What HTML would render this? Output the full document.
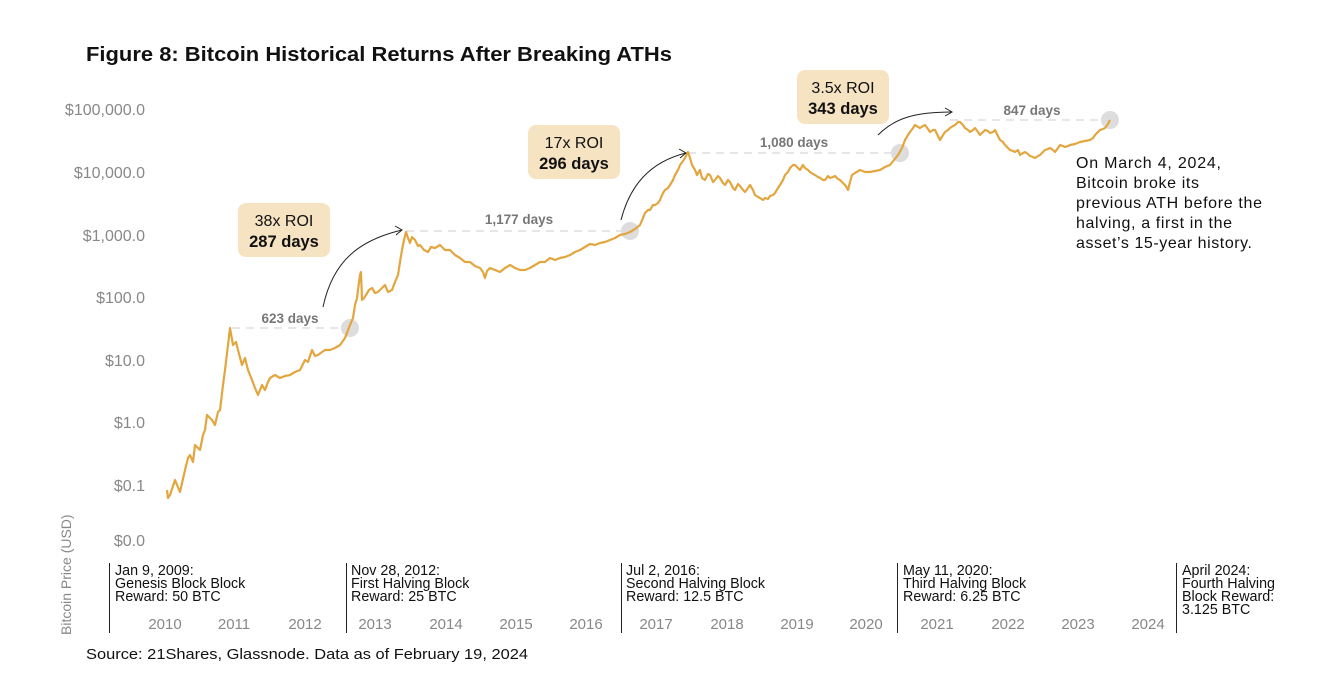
<!DOCTYPE html>
<html><head><meta charset="utf-8"><style>
body{margin:0;background:#fff;font-family:"Liberation Sans",sans-serif;}
svg{display:block}
</style></head><body>
<svg width="1332" height="684" xmlns="http://www.w3.org/2000/svg" font-family="Liberation Sans, sans-serif">
<text x="86" y="61" font-size="20" font-weight="bold" fill="#111" textLength="586" lengthAdjust="spacingAndGlyphs">Figure 8: Bitcoin Historical Returns After Breaking ATHs</text>
<g font-size="16" fill="#888" text-anchor="end">
<text x="145" y="115">$100,000.0</text>
<text x="145" y="178">$10,000.0</text>
<text x="145" y="241">$1,000.0</text>
<text x="145" y="303">$100.0</text>
<text x="145" y="366">$10.0</text>
<text x="145" y="428">$1.0</text>
<text x="145" y="491">$0.1</text>
<text x="145" y="546">$0.0</text>
</g>
<text transform="translate(71,635) rotate(-90)" font-size="14" fill="#888">Bitcoin Price (USD)</text>
<g font-size="15" fill="#888" text-anchor="middle">
<text x="165" y="629">2010</text><text x="234" y="629">2011</text><text x="305" y="629">2012</text>
<text x="375" y="629">2013</text><text x="446" y="629">2014</text><text x="516" y="629">2015</text>
<text x="586" y="629">2016</text><text x="656" y="629">2017</text><text x="727" y="629">2018</text>
<text x="797" y="629">2019</text><text x="866" y="629">2020</text><text x="937" y="629">2021</text>
<text x="1008" y="629">2022</text><text x="1078" y="629">2023</text><text x="1148" y="629">2024</text>
</g>
<g stroke="#222" stroke-width="1">
<line x1="109.5" y1="563" x2="109.5" y2="633"/><line x1="346.5" y1="563" x2="346.5" y2="633"/>
<line x1="621.5" y1="563" x2="621.5" y2="633"/><line x1="897.5" y1="563" x2="897.5" y2="633"/>
<line x1="1176.5" y1="563" x2="1176.5" y2="633"/>
</g>
<g font-size="14.3" fill="#111">
<text x="115" y="575">Jan 9, 2009:</text><text x="115" y="588">Genesis Block Block</text><text x="115" y="601">Reward: 50 BTC</text>
<text x="351" y="575">Nov 28, 2012:</text><text x="351" y="588">First Halving Block</text><text x="351" y="601">Reward: 25 BTC</text>
<text x="626" y="575">Jul 2, 2016:</text><text x="626" y="588">Second Halving Block</text><text x="626" y="601">Reward: 12.5 BTC</text>
<text x="903" y="575">May 11, 2020:</text><text x="903" y="588">Third Halving Block</text><text x="903" y="601">Reward: 6.25 BTC</text>
<text x="1182" y="575">April 2024:</text><text x="1182" y="588">Fourth Halving</text><text x="1182" y="601">Block Reward:</text><text x="1182" y="614">3.125 BTC</text>
</g>
<text x="86" y="659" font-size="15" fill="#111" textLength="442" lengthAdjust="spacingAndGlyphs">Source: 21Shares, Glassnode. Data as of February 19, 2024</text>
<g stroke="#ccc" stroke-width="1" stroke-dasharray="8,6">
<line x1="232" y1="328" x2="350" y2="328"/>
<line x1="406" y1="231" x2="630" y2="231"/>
<line x1="688" y1="153" x2="900" y2="153"/>
<line x1="950" y1="120" x2="1110" y2="120"/>
</g>
<g fill="#ddd">
<circle cx="350" cy="328" r="9"/><circle cx="630" cy="231" r="9"/><circle cx="900" cy="153" r="9"/><circle cx="1110" cy="120" r="9"/>
</g>
<g font-size="13.5" font-weight="bold" fill="#777" text-anchor="middle">
<text x="290" y="323">623 days</text><text x="519" y="224">1,177 days</text><text x="794" y="147">1,080 days</text><text x="1032" y="115">847 days</text>
</g>
<polyline fill="none" stroke="#e3a63f" stroke-width="2.2" stroke-linejoin="round" points="167,490 168,498 170,495 175,480 180,492 185,470 188,458 190,455 193,462 195,445 200,450 203,435 205,430 207,415 210,418 212,420 215,425 218,412 220,410 223,385 225,370 228,345 230,328 233,345 236,342 238,350 242,365 245,358 248,370 252,380 255,388 258,395 260,390 262,385 265,390 268,382 270,378 275,375 280,378 285,376 290,375 295,372 300,370 305,360 308,362 312,350 315,356 318,355 322,352 325,350 330,350 335,348 340,345 345,338 350,325 353,318 355,305 357,298 358,290 360,275 361,272 362,300 364,298 366,295 369,290 372,288 375,293 378,292 382,288 385,285 388,292 392,290 395,282 398,275 400,262 402,250 404,240 406,232 408,238 410,243 412,237 415,240 418,246 420,245 424,250 428,252 431,247 435,248 440,245 445,250 450,250 455,255 460,258 465,262 470,262 475,266 480,268 483,272 485,278 487,271 490,268 495,270 500,272 505,268 510,265 515,268 520,270 525,270 530,268 535,265 540,262 545,262 550,258 555,260 560,258 565,257 570,255 575,252 580,250 585,247 590,244 595,245 600,243 605,242 610,240 615,238 620,235 625,234 630,232 635,229 640,225 643,218 645,213 648,210 650,210 653,205 655,205 658,203 660,200 663,193 665,190 668,188 670,185 673,180 675,175 678,170 680,165 683,161 685,158 688,152 690,158 692,165 695,170 697,175 700,170 702,178 705,180 708,174 710,175 713,182 715,180 718,176 720,178 723,183 725,185 728,180 730,182 733,188 735,190 738,184 740,186 743,190 745,192 748,188 750,185 753,190 755,195 758,197 760,198 763,200 765,198 768,199 770,196 773,195 775,193 778,188 780,185 783,180 785,175 788,172 790,168 793,165 795,165 798,168 800,170 803,165 805,168 808,170 810,172 813,174 815,175 818,177 820,178 823,180 825,180 828,176 830,178 833,177 835,176 838,179 840,180 843,183 845,185 847,188 848,190 850,182 852,175 855,173 860,170 865,172 870,172 875,171 880,170 885,167 890,165 894,160 898,155 902,148 905,140 908,135 910,132 913,128 915,125 918,127 920,128 923,126 925,125 928,129 930,132 933,130 935,130 938,136 940,140 943,135 945,132 948,130 950,128 953,126 955,125 958,122 960,122 963,125 965,128 968,130 970,132 973,130 975,128 978,132 980,135 983,132 985,130 988,131 990,133 993,132 995,130 998,136 1000,140 1003,142 1005,145 1008,148 1010,150 1013,151 1015,152 1018,150 1020,155 1023,153 1025,152 1028,154 1030,156 1033,157 1035,158 1038,156 1040,155 1043,152 1045,150 1048,149 1050,148 1053,150 1055,152 1058,148 1060,145 1063,146 1065,147 1068,146 1070,145 1075,144 1080,142 1085,141 1090,140 1093,138 1095,135 1098,132 1100,130 1103,129 1105,128 1108,124 1110,120"/>
<g fill="#f6e3c2">
<rect x="238" y="203" width="92" height="54" rx="8"/>
<rect x="528" y="125" width="92" height="54" rx="8"/>
<rect x="797" y="70" width="92" height="54" rx="8"/>
</g>
<g text-anchor="middle" fill="#111">
<text x="284" y="226" font-size="16">38x ROI</text><text x="284" y="247" font-size="16.5" font-weight="bold">287 days</text>
<text x="574" y="148" font-size="16">17x ROI</text><text x="574" y="169" font-size="16.5" font-weight="bold">296 days</text>
<text x="843" y="93" font-size="16">3.5x ROI</text><text x="843" y="114" font-size="16.5" font-weight="bold">343 days</text>
</g>
<g fill="none" stroke="#222" stroke-width="1">
<path d="M323,307 C333,260 360,240 402,230"/><path d="M395,226 L402,230 L396,235"/>
<path d="M621,220 C630,185 650,162 686,153"/><path d="M679,149 L686,153 L680,158"/>
<path d="M878,135 C895,118 915,112 952,112"/><path d="M945,108 L952,112 L945,116"/>
</g>
<g font-size="16" fill="#111" lengthAdjust="spacingAndGlyphs">
<text x="1076" y="168" textLength="145">On March 4, 2024,</text><text x="1076" y="188" textLength="123">Bitcoin broke its</text>
<text x="1076" y="208" textLength="186">previous ATH before the</text><text x="1076" y="228" textLength="156">halving, a first in the</text>
<text x="1076" y="248" textLength="176">asset’s 15-year history.</text>
</g>
</svg>
</body></html>
